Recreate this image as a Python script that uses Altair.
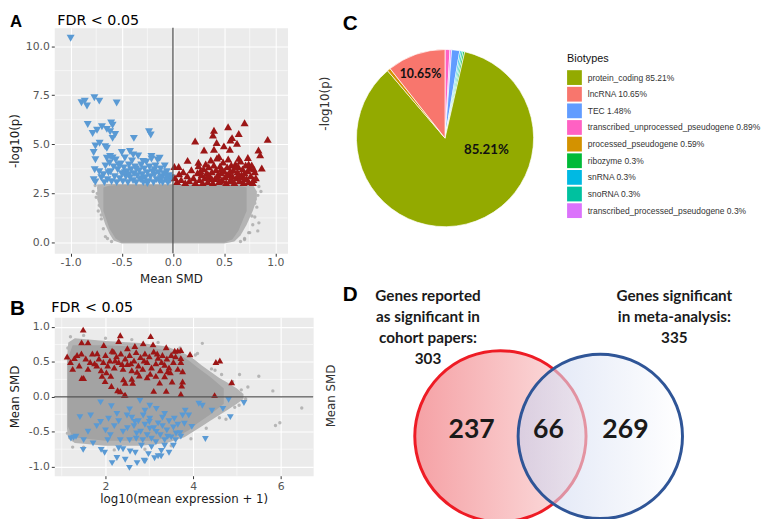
import altair as alt
import pandas as pd

# ---------------- Panel A : volcano plot (Mean SMD vs -log10 p) ----------------
A_xdomain = [-1.16, 1.12]
A_ydomain = [-0.55, 10.93]
A_xticks = [-1.0, -0.5, 0.0, 0.5, 1.0]
A_yticks = [0.0, 2.5, 5.0, 7.5, 10.0]
A_xminor = [-0.75, -0.25, 0.25, 0.75]
A_yminor = [1.25, 3.75, 6.25, 8.75]

A_down = [(-1.00, 10.4), (-0.894, 7.12), (-0.862, 7.2), (-0.84, 6.95), (-0.768, 7.37), (-0.72, 7.2),
          (-0.55, 7.1), (-0.833, 6.01), (-0.785, 5.55), (-0.742, 5.72), (-0.694, 5.89), (-0.646, 5.76),
          (-0.604, 6.09), (-0.59, 5.97), (-0.614, 5.64), (-0.565, 5.5), (-0.59, 5.3), (-0.717, 5.05),
          (-0.758, 4.91), (-0.662, 4.88), (-0.646, 4.8), (-0.382, 5.3), (-0.234, 5.64), (-0.217, 5.47),
          (-0.775, 4.58), (-0.758, 4.21), (-0.765, 3.70), (-0.775, 3.20), (-0.758, 3.08), (-0.42, 4.63),
          (-0.388, 4.46), (-0.5, 4.58), (-0.614, 4.38), (-0.646, 4.29), (-0.21, 4.38), (-0.13, 4.29),
          (-0.292, 4.13),
          (-0.68, 3.45), (-0.66, 3.9), (-0.64, 3.2), (-0.62, 4.05), (-0.61, 3.6), (-0.6, 3.1), (-0.58, 3.85),
          (-0.57, 3.35), (-0.56, 4.2), (-0.55, 3.05), (-0.54, 3.7), (-0.52, 3.25), (-0.51, 4.0), (-0.5, 3.5),
          (-0.49, 3.1), (-0.48, 3.8), (-0.47, 4.3), (-0.46, 3.35), (-0.45, 3.6), (-0.44, 3.05), (-0.43, 3.95),
          (-0.42, 3.3), (-0.41, 3.7), (-0.4, 4.15), (-0.39, 3.15), (-0.38, 3.5), (-0.37, 3.85), (-0.36, 3.05),
          (-0.35, 3.4), (-0.34, 4.4), (-0.33, 3.65), (-0.32, 3.2), (-0.31, 3.95), (-0.3, 3.45), (-0.29, 3.05),
          (-0.28, 3.75), (-0.27, 3.3), (-0.26, 4.1), (-0.25, 3.55), (-0.24, 3.1), (-0.23, 3.85), (-0.22, 3.35),
          (-0.21, 4.25), (-0.2, 3.6), (-0.19, 3.05), (-0.18, 3.45), (-0.17, 3.9), (-0.16, 3.2), (-0.15, 4.2),
          (-0.14, 3.55), (-0.13, 3.1), (-0.12, 3.75), (-0.11, 3.35), (-0.1, 3.05), (-0.09, 3.5), (-0.08, 3.9),
          (-0.07, 3.2), (-0.06, 3.6), (-0.05, 3.05), (-0.04, 3.4), (-0.03, 3.15), (-0.02, 3.3), (-0.63, 3.55),
          (-0.59, 4.3), (-0.53, 3.95), (-0.47, 3.55), (-0.43, 3.45), (-0.36, 3.75), (-0.3, 3.25), (-0.25, 3.0),
          (-0.18, 3.7), (-0.12, 3.25), (-0.06, 3.35), (-0.67, 3.05), (-0.7, 3.3), (-0.72, 3.6)]

A_up = [(0.700, 6.10), (0.539, 5.89), (0.401, 5.72), (0.391, 5.47), (0.643, 5.55), (0.578, 5.34),
        (0.562, 5.22), (0.626, 5.05), (0.926, 5.25), (0.217, 5.17), (0.427, 5.09), (0.498, 4.92),
        (0.304, 4.71), (0.401, 4.75), (0.556, 4.75), (0.836, 4.71), (0.852, 4.46), (0.732, 4.33),
        (0.143, 4.18), (0.249, 4.09), (0.449, 4.38), (0.643, 4.29), (0.014, 3.87), (0.056, 3.87),
        (0.77, 3.95), (0.787, 3.2), (0.868, 3.79),
        (0.02, 3.3), (0.04, 3.1), (0.06, 3.5), (0.08, 3.2), (0.1, 3.6), (0.12, 3.05), (0.14, 3.4),
        (0.16, 3.15), (0.18, 3.7), (0.2, 3.3), (0.22, 3.05), (0.24, 3.55), (0.25, 3.9), (0.26, 3.2),
        (0.28, 3.45), (0.29, 3.05), (0.3, 3.75), (0.31, 3.3), (0.32, 4.0), (0.33, 3.55), (0.34, 3.1),
        (0.35, 3.85), (0.36, 3.35), (0.37, 4.2), (0.38, 3.6), (0.39, 3.05), (0.4, 3.95), (0.41, 3.25),
        (0.42, 3.7), (0.43, 4.3), (0.44, 3.45), (0.45, 3.1), (0.46, 3.9), (0.47, 3.55), (0.48, 3.2),
        (0.49, 4.1), (0.5, 3.65), (0.51, 3.35), (0.52, 3.05), (0.53, 3.85), (0.54, 4.25), (0.55, 3.5),
        (0.56, 3.15), (0.57, 3.95), (0.58, 3.4), (0.59, 3.7), (0.6, 3.05), (0.61, 4.0), (0.62, 3.3),
        (0.63, 3.6), (0.64, 3.85), (0.65, 3.15), (0.66, 4.15), (0.67, 3.45), (0.68, 3.75), (0.69, 3.05),
        (0.7, 3.55), (0.71, 3.95), (0.72, 3.25), (0.73, 3.65), (0.74, 3.1), (0.75, 3.8), (0.76, 3.4),
        (0.78, 3.05), (0.8, 3.6), (0.81, 3.3), (0.79, 3.75), (0.27, 3.65), (0.35, 3.45), (0.43, 3.35),
        (0.47, 3.75), (0.53, 3.45), (0.57, 3.25), (0.62, 3.9), (0.66, 3.35), (0.7, 3.25), (0.74, 4.0),
        (0.46, 3.15), (0.38, 3.25), (0.56, 3.65), (0.64, 3.45)]

A_gray = [(0.829, 0.59), (0.787, 2.36), (-0.727, 2.78), (-0.71, 1.85), (0.771, 1.35), (0.80, 2.0),
          (-0.74, 2.5), (0.84, 1.0), (-0.70, 1.4), (0.75, 0.5), (-0.66, 0.3), (0.70, 0.15),
          (-0.76, 2.9), (-0.75, 2.3), (-0.72, 1.9), (-0.7, 1.2), (-0.68, 0.7), (-0.64, 0.2), (-0.6, 0.05),
          (0.84, 2.85), (0.83, 2.4), (0.82, 1.8), (0.8, 1.3), (0.78, 0.9), (0.74, 0.5), (0.7, 0.2),
          (0.66, 0.05), (-0.78, 2.6), (0.86, 2.6), (-0.73, 1.6)]

A_outer_x = [-0.74, -0.70, -0.66, -0.62, -0.58, -0.50, 0.0, 0.50, 0.60, 0.66, 0.72, 0.78, 0.82]
A_outer_top = [2.95, 2.97, 2.98, 2.98, 2.98, 2.98, 2.98, 2.98, 2.98, 2.98, 2.97, 2.95, 2.6]
A_outer_bottom = [2.2, 1.5, 0.9, 0.45, 0.1, -0.05, -0.05, -0.05, 0.05, 0.35, 0.9, 1.6, 2.2]
A_core_x = [-0.68, -0.62, -0.56, -0.50, 0.0, 0.50, 0.58, 0.64, 0.72]
A_core_top = [2.8, 2.9, 2.92, 2.93, 2.93, 2.93, 2.92, 2.9, 2.8]
A_core_bottom = [1.6, 0.7, 0.2, 0.0, 0.0, 0.0, 0.15, 0.6, 1.6]
A_vline = [0.0]

# ---------------- Panel B : MA plot (mean expression vs Mean SMD) ----------------
B_xdomain = [0.83, 6.74]
B_ydomain = [-1.13, 1.14]
B_xticks = [2, 4, 6]
B_yticks = [-1.0, -0.5, 0.0, 0.5, 1.0]
B_xminor = [1, 3, 5]
B_yminor = [-0.75, -0.25, 0.25, 0.75]

B_up = [(1.49, 0.963), (1.454, 0.78), (1.60, 0.78), (2.337, 0.883), (2.30, 0.80), (3.03, 0.87),
        (1.124, 0.577), (1.29, 0.555), (1.46, 0.27), (1.50, 0.27), (1.81, 0.625), (1.96, 0.742),
        (2.187, 0.648), (2.50, 0.695), (2.67, 0.728), (2.86, 0.766), (3.085, 0.752), (3.386, 0.71),
        (3.647, 0.662), (1.99, 0.225), (2.135, 0.155), (2.276, 0.094), (2.45, 0.028), (2.41, 0.25),
        (2.60, 0.26), (2.77, 0.305), (3.10, 0.085), (3.386, 0.085), (3.236, 0.203), (3.35, 0.296),
        (3.42, 0.366), (3.93, 0.61), (3.72, 0.67), (3.72, 0.555), (3.72, 0.5), (3.76, 0.366),
        (3.76, 0.22), (3.74, 0.16), (3.72, 0.04), (4.52, 0.498), (4.61, 0.52), (4.88, 0.21),
        (4.49, 0.024), (2.43, 0.024), (2.34, 0.08), (2.45, 0.2),
        (1.35, 0.6), (1.4, 0.45), (1.55, 0.55), (1.6, 0.4), (1.7, 0.62), (1.75, 0.48), (1.85, 0.55),
        (1.9, 0.38), (2.0, 0.6), (2.05, 0.45), (2.1, 0.52), (2.15, 0.66), (2.2, 0.42), (2.25, 0.58),
        (2.3, 0.5), (2.35, 0.62), (2.4, 0.4), (2.45, 0.55), (2.5, 0.47), (2.55, 0.6), (2.6, 0.38),
        (2.65, 0.52), (2.7, 0.64), (2.75, 0.45), (2.8, 0.57), (2.85, 0.4), (2.9, 0.62), (2.95, 0.5),
        (3.0, 0.58), (3.05, 0.42), (3.1, 0.65), (3.15, 0.48), (3.2, 0.56), (3.25, 0.38), (3.3, 0.6),
        (3.35, 0.46), (3.4, 0.55), (3.45, 0.42), (3.5, 0.6), (3.55, 0.5), (3.6, 0.58), (3.65, 0.4),
        (1.2, 0.5), (1.25, 0.4), (1.45, 0.62), (1.65, 0.5), (1.8, 0.45), (1.95, 0.5), (2.02, 0.35),
        (2.22, 0.52), (2.38, 0.47), (2.58, 0.48), (2.72, 0.36), (2.88, 0.52), (3.02, 0.33),
        (3.18, 0.62), (3.28, 0.5), (3.48, 0.35), (3.58, 0.66), (2.12, 0.3), (2.62, 0.2), (2.95, 0.28),
        (3.15, 0.3), (1.92, 0.3), (3.52, 0.22)]

B_down = [(1.888, -0.079), (2.135, -0.135), (2.787, -0.056), (3.01, -0.127), (3.16, -0.173),
          (1.416, -0.29), (1.66, -0.267), (1.888, -0.36), (2.07, -0.314), (2.26, -0.244), (2.49, -0.267),
          (2.67, -0.36), (2.86, -0.267), (3.01, -0.314), (3.35, -0.244), (3.57, -0.314), (3.76, -0.267),
          (1.21, -0.596), (1.326, -0.572), (1.49, -0.76), (1.715, -0.666), (1.90, -0.76), (2.11, -0.549),
          (2.30, -0.737), (2.337, -0.62), (2.546, -1.018), (2.56, -0.783), (2.90, -0.924), (3.274, -0.775),
          (3.42, -0.572), (3.61, -0.525), (2.71, -0.525), (3.01, -0.455), (3.16, -0.502), (2.26, -0.877),
          (2.88, -0.915), (3.27, -0.853), (1.27, -0.585), (4.28, -0.605), (4.81, -0.042), (5.16, -0.089),
          (4.13, -0.10), (4.21, -0.127), (4.43, -0.20), (4.68, -0.173), (4.85, -0.29), (3.82, -0.197),
          (3.90, -0.267), (3.80, -0.385), (3.97, -0.43), (3.72, -0.57),
          (2.65, -0.42), (2.7, -0.6), (2.75, -0.35), (2.8, -0.5), (2.85, -0.62), (2.9, -0.4), (2.95, -0.55),
          (3.0, -0.36), (3.05, -0.6), (3.1, -0.45), (3.15, -0.65), (3.2, -0.38), (3.25, -0.55), (3.3, -0.42),
          (3.35, -0.62), (3.4, -0.48), (3.45, -0.35), (3.5, -0.58), (3.55, -0.44), (3.6, -0.62), (3.65, -0.4),
          (3.7, -0.52), (2.5, -0.45), (2.55, -0.62), (2.6, -0.3), (2.4, -0.5), (2.2, -0.42), (2.0, -0.48),
          (1.8, -0.42), (1.6, -0.5), (1.5, -0.62), (2.82, -0.7), (3.05, -0.72), (2.98, -0.82), (3.12, -0.88),
          (2.45, -0.9), (2.4, -0.75), (2.68, -0.8), (3.35, -0.7), (3.55, -0.7), (2.9, -0.2), (3.3, -0.3),
          (2.55, -0.18), (2.3, -0.35), (2.05, -0.62), (1.98, -0.8), (2.15, -0.95), (3.2, -0.85),
          (2.72, -0.95), (3.45, -0.8)]

B_gray = [(4.21, 0.766), (5.5, 0.296), (5.82, 0.085), (6.48, -0.16), (5.88, -0.41), (5.98, -0.37),
          (5.06, 0.32), (4.42, 0.4), (4.65, 0.32), (4.75, -0.32), (5.25, 0.14), (4.95, -0.15),
          (5.2, -0.03), (1.2, 0.86), (1.25, -0.72), (4.1, 0.62),
          (1.5, 0.88), (2.0, 0.84), (2.6, 0.82), (3.2, 0.78), (3.7, 0.7), (4.05, 0.6), (1.5, -0.72),
          (2.2, -0.76), (2.9, -0.75), (3.5, -0.7), (3.95, -0.6), (4.3, -0.45), (4.5, 0.38), (4.9, 0.22),
          (5.1, 0.1), (4.6, -0.3), (5.05, -0.12), (1.14, 0.7), (1.13, -0.52)]

B_outer_x = [1.12, 1.15, 1.3, 2.0, 2.8, 3.4, 3.8, 4.0, 4.2, 4.4, 4.6, 4.8, 5.0, 5.15]
B_outer_top = [0.55, 0.78, 0.84, 0.8, 0.77, 0.72, 0.62, 0.55, 0.45, 0.36, 0.27, 0.2, 0.12, 0.04]
B_outer_bottom = [-0.45, -0.6, -0.66, -0.7, -0.7, -0.66, -0.58, -0.5, -0.42, -0.34, -0.26, -0.18, -0.1, -0.03]
B_core_x = [1.14, 1.25, 2.0, 3.0, 3.6, 3.9, 4.1, 4.4, 4.7]
B_core_top = [0.55, 0.74, 0.74, 0.71, 0.64, 0.52, 0.42, 0.28, 0.12]
B_core_bottom = [-0.42, -0.58, -0.63, -0.63, -0.58, -0.48, -0.38, -0.25, -0.1]
B_hline = [0.0]

# ---------------- Panel C : biotype pie ----------------
BIOTYPES = ["protein_coding", "lncRNA", "TEC", "transcribed_unprocessed_pseudogene",
            "processed_pseudogene", "ribozyme", "snRNA", "snoRNA", "transcribed_processed_pseudogene"]
BIO_PCT = [85.21, 10.65, 1.48, 0.89, 0.59, 0.3, 0.3, 0.3, 0.3]
BIO_COLORS = ["#93AA00", "#F8766D", "#619CFF", "#FF61C3", "#D39200", "#00BA38", "#00B9E3", "#00C19F", "#DB72FB"]
PIE_ORDER = ["transcribed_unprocessed_pseudogene", "transcribed_processed_pseudogene", "TEC", "snRNA",
             "snoRNA", "ribozyme", "protein_coding", "processed_pseudogene", "lncRNA"]
PIE_LABELS = ["10.65%", "85.21%"]
PIE_LABEL_ANGLE = [339, 106]
PIE_LABEL_RADIUS = [69.6, 43.7]
PIE_LABEL_SIZE = [12.5, 13.5]

# ---------------- Panel D : Venn diagram ----------------
VENN_CX = [-1.0, 1.0]
VENN_CY = [0.0, 0.0]
VENN_COUNTS = ["237", "66", "269"]
VENN_COUNT_X = [-1.576, -0.039, 1.504]
VENN_COUNT_Y = [0.118, 0.118, 0.118]
VENN_HEADERS = ["Genes reported\nas significant in\ncohort papers:\n303",
                "Genes significant\nin meta-analysis:\n335"]
VENN_HEADER_X = [-2.449, 2.483]
VENN_HEADER_Y = [2.95, 2.95]

BLUE = "#5A9AD4"
RED = "#9C1616"
NEG_FMT = "(datum.value < 0 ? '-' : '') + format(abs(datum.value), '.1f')"
AX = dict(grid=True, gridColor="#FFFFFF", gridWidth=1.1, domain=False, tickColor="#333333",
          tickSize=3, tickWidth=1, labelColor="#555555", labelFontSize=11, labelFont="DejaVu Sans",
          titleFont="DejaVu Sans", titleFontSize=12, titleFontWeight="normal", titleColor="#1A1A1A")
PANEL_BG = alt.ViewBackground(fill="#EBEBEB", stroke="transparent")


def xy(pairs):
    return pd.DataFrame(pairs, columns=["x", "y"])


def text_layer(txt, x, y, size, font, weight="normal", align="left", baseline="alphabetic",
               angle=0, color="#000000"):
    return alt.Chart(alt.Data(values=[{"t": txt}])).mark_text(
        align=align, baseline=baseline, fontSize=size, font=font, fontWeight=weight,
        angle=angle, color=color
    ).encode(text="t:N", x=alt.value(x), y=alt.value(y))


def scatter_panel(xdom, ydom, xaxis, yaxis, xminor, yminor, clouds, gray, up, down,
                  line, line_channel, tri_size):
    xs = alt.Scale(domain=xdom, nice=False, zero=False)
    ys = alt.Scale(domain=ydom, nice=False, zero=False)
    X = lambda f: alt.X(f, type="quantitative", scale=xs, axis=xaxis)
    Y = lambda f: alt.Y(f, type="quantitative", scale=ys, axis=yaxis)
    layers = [
        alt.Chart(pd.DataFrame({"x": xminor})).mark_rule(color="white", strokeWidth=0.55).encode(x=X("x")),
        alt.Chart(pd.DataFrame({"y": yminor})).mark_rule(color="white", strokeWidth=0.55).encode(y=Y("y")),
        alt.Chart(xy(gray)).mark_circle(size=12, color="#ABABAB", opacity=0.85).encode(x=X("x"), y=Y("y")),
    ]
    for (cx, ctop, cbot), col in zip(clouds, ["#B4B4B4", "#A3A3A3"]):
        layers.append(
            alt.Chart(pd.DataFrame({"x": cx, "top": ctop, "bottom": cbot})).mark_area(
                color=col, interpolate="linear").encode(x=X("x"), y=Y("top"), y2="bottom:Q"))
    layers += [
        alt.Chart(xy(down)).mark_point(shape="triangle-down", filled=True, size=tri_size, color=BLUE,
                                       opacity=1, strokeWidth=0).encode(x=X("x"), y=Y("y")),
        alt.Chart(xy(up)).mark_point(shape="triangle-up", filled=True, size=tri_size, color=RED,
                                     opacity=1, strokeWidth=0).encode(x=X("x"), y=Y("y")),
    ]
    if line_channel == "x":
        layers.append(alt.Chart(pd.DataFrame({"x": line})).mark_rule(color="#555555", strokeWidth=1.3)
                      .encode(x=X("x")))
    else:
        layers.append(alt.Chart(pd.DataFrame({"y": line})).mark_rule(color="#555555", strokeWidth=1.3)
                      .encode(y=Y("y")))
    return layers


# ---- A
axAx = alt.Axis(values=A_xticks, labelExpr=NEG_FMT, title="Mean SMD", labelPadding=0, titlePadding=7, **AX)
axAy = alt.Axis(values=A_yticks, labelExpr=NEG_FMT, title="-log10(p)", labelPadding=2, titlePadding=4, **AX)
A_layers = scatter_panel(A_xdomain, A_ydomain, axAx, axAy, A_xminor, A_yminor,
                         [(A_outer_x, A_outer_top, A_outer_bottom), (A_core_x, A_core_top, A_core_bottom)],
                         A_gray, A_up, A_down, A_vline, "x", 66)
A_layers += [text_layer("FDR < 0.05", 3, -3, 14.5, "DejaVu Sans"),
             text_layer("A", -45, -1, 17, "Liberation Sans", weight="bold")]
panelA = alt.layer(*A_layers).properties(width=237, height=229, view=PANEL_BG)

# ---- B
axBx = alt.Axis(values=B_xticks, format="d", title="log10(mean expression + 1)", labelPadding=2,
                titlePadding=2, **AX)
axBy = alt.Axis(values=B_yticks, labelExpr=NEG_FMT, title="Mean SMD", labelPadding=2, titlePadding=6.5, **AX)
B_layers = scatter_panel(B_xdomain, B_ydomain, axBx, axBy, B_xminor, B_yminor,
                         [(B_outer_x, B_outer_top, B_outer_bottom), (B_core_x, B_core_top, B_core_bottom)],
                         B_gray, B_up, B_down, B_hline, "y", 48)
B_layers += [text_layer("FDR < 0.05", -3, -5, 14.5, "DejaVu Sans"),
             text_layer("B", -45, -2, 21, "Liberation Sans", weight="bold")]
panelB = alt.layer(*B_layers).properties(width=263, height=161, view=PANEL_BG)

# ---- C
legend_labels = [f"{b} {p}%" for b, p in zip(BIOTYPES, BIO_PCT)]
pct_of = dict(zip(BIOTYPES, BIO_PCT))
label_of = dict(zip(BIOTYPES, legend_labels))
pie_df = pd.DataFrame({
    "biotype": PIE_ORDER,
    "pct": [pct_of[b] for b in PIE_ORDER],
    "ord": list(range(len(PIE_ORDER))),
    "label": [label_of[b] for b in PIE_ORDER],
})
arc = alt.Chart(pie_df).mark_arc(outerRadius=90, stroke="white", strokeWidth=0.7).encode(
    theta=alt.Theta("pct:Q", stack=True),
    order=alt.Order("ord:Q", sort="ascending"),
    color=alt.Color("label:N", scale=alt.Scale(domain=legend_labels, range=BIO_COLORS),
                    legend=alt.Legend(title="Biotypes", orient="none", legendX=521, legendY=26,
                                      symbolType="square", symbolSize=225, symbolStrokeWidth=0,
                                      labelFont="Liberation Sans", labelFontSize=8.6, labelColor="#333333",
                                      titleFont="Liberation Sans", titleFontSize=11, titleFontWeight="normal",
                                      titleColor="#111111", titlePadding=6, rowPadding=1.9, labelOffset=6,
                                      labelLimit=320)),
)
pie_txt = alt.Chart(pd.DataFrame({"t": PIE_LABELS, "ang": PIE_LABEL_ANGLE, "r": PIE_LABEL_RADIUS,
                                  "fs": PIE_LABEL_SIZE})).mark_text(
    font="Lato", fontWeight="bold", color="#111111", align="center", baseline="middle"
).encode(
    theta=alt.Theta("ang:Q", scale=alt.Scale(domain=[0, 360], range=[0, 6.283185307]), stack=False),
    radius=alt.Radius("r:Q", scale=None),
    size=alt.Size("fs:Q", scale=None),
    text="t:N",
)
panelC = alt.layer(
    arc, pie_txt,
    text_layer("C", -14, 2, 21, "Liberation Sans", weight="bold"),
    text_layer("-log10(p)", -32, 77, 12, "DejaVu Sans", align="center", baseline="middle", angle=270,
               color="#333333"),
).resolve_scale(theta="independent").properties(width=180, height=224)

# ---- D
xD = alt.Scale(domain=[-3.882, 3.212], nice=False, zero=False)
yD = alt.Scale(domain=[-0.788, 2.384], nice=False, zero=False)
grad_red = alt.LinearGradient(gradient="linear", x1=0, x2=1, y1=0, y2=0,
                              stops=[alt.GradientStop(color="#F5A1A5", offset=0),
                                     alt.GradientStop(color="#FCE2E2", offset=1)])
grad_blue = alt.LinearGradient(gradient="linear", x1=0, x2=1, y1=0, y2=0,
                               stops=[alt.GradientStop(color="#C6D1EE", offset=0),
                                      alt.GradientStop(color="#FFFFFF", offset=1)])
circ_df = pd.DataFrame({"x": VENN_CX, "y": VENN_CY})
XD = alt.X("x:Q", scale=xD, axis=None)
YD = alt.Y("y:Q", scale=yD, axis=None)
left_circle = alt.Chart(circ_df.iloc[[0]]).mark_circle(
    size=30276, fill=grad_red, stroke="#EE1C25", strokeWidth=3, opacity=1).encode(x=XD, y=YD)
right_circle = alt.Chart(circ_df.iloc[[1]]).mark_circle(
    size=27889, fill=grad_blue, fillOpacity=0.6, stroke="#2F5597", strokeWidth=3, strokeOpacity=1,
    opacity=1).encode(x=XD, y=YD)
counts = alt.Chart(pd.DataFrame({"x": VENN_COUNT_X, "y": VENN_COUNT_Y, "t": VENN_COUNTS})).mark_text(
    font="Lato", fontWeight="bold", fontSize=27, color="#1A1A1A", align="center", baseline="middle"
).encode(x=XD, y=YD, text="t:N")
headers = alt.Chart(pd.DataFrame({"x": VENN_HEADER_X, "y": VENN_HEADER_Y, "t": VENN_HEADERS})).mark_text(
    font="Lato", fontWeight="bold", fontSize=15.5, color="#1A1A1A", align="center", baseline="top",
    lineBreak="\n", lineHeight=21.5
).encode(x=XD, y=YD, text="t:N")
panelD = alt.layer(
    left_circle, right_circle, counts, headers,
    text_layer("D", -14, -17, 21, "Liberation Sans", weight="bold"),
    text_layer("Mean SMD", -26, 80, 12, "DejaVu Sans", align="center", baseline="middle", angle=270,
               color="#333333"),
).properties(width=360, height=161)

chart = alt.concat(
    panelA, panelC, panelB, panelD, columns=2,
    spacing=alt.RowColnumber(row=65, column=44), bounds="flush"
).properties(
    padding={"left": 0, "top": 0, "right": 0, "bottom": 0}
).configure_view(stroke="transparent")

chart.save("out.html", embed_options={"renderer": "svg", "actions": False})
